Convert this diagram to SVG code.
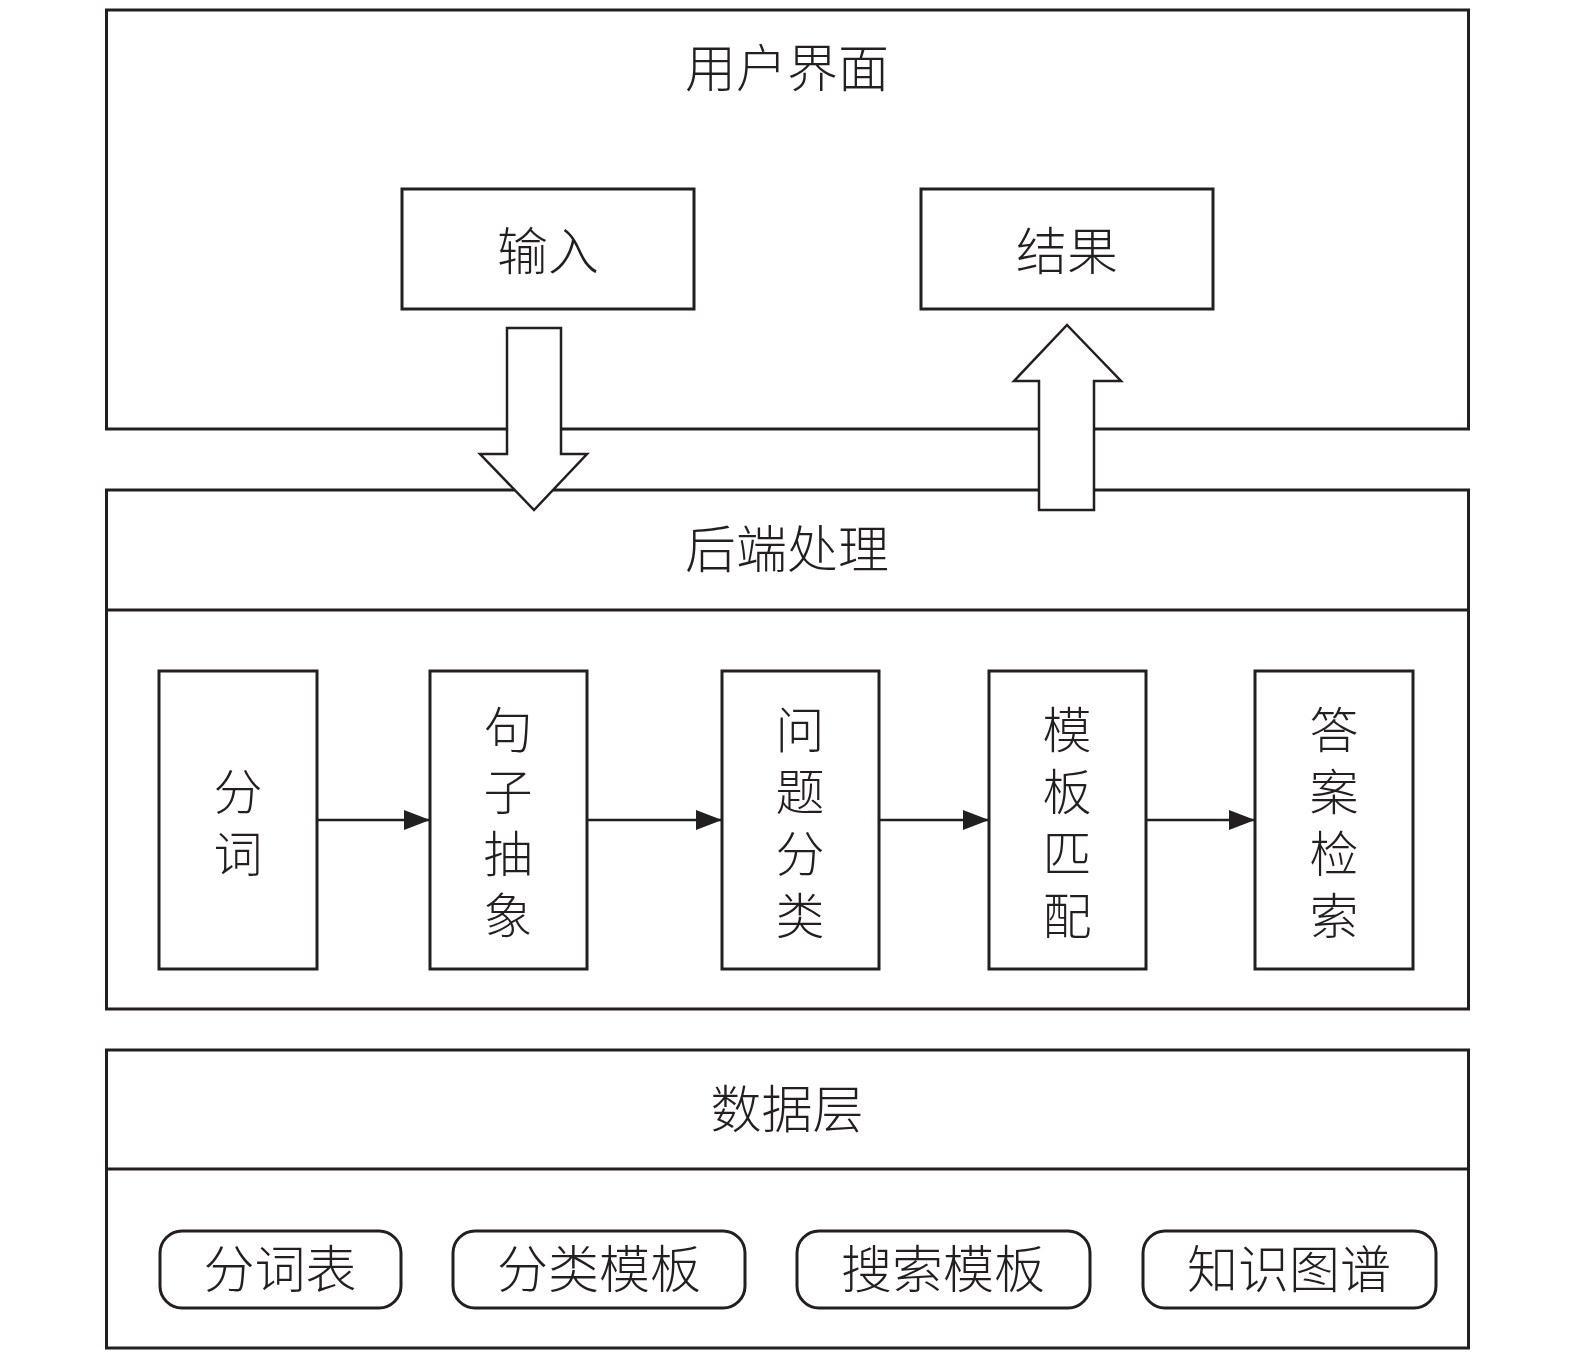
<svg xmlns="http://www.w3.org/2000/svg" width="1575" height="1356" viewBox="0 0 1575 1356">
<style>
.box{fill:#fff;stroke:#231f20;stroke-width:3}
.t{font-family:"Noto Sans CJK SC","Noto Sans CJK JP",sans-serif;font-size:51px;fill:#231f20;text-anchor:middle;dominant-baseline:central;font-weight:300}
.v{font-family:"Noto Sans CJK SC","Noto Sans CJK JP",sans-serif;font-size:49px;fill:#231f20;text-anchor:middle;writing-mode:vertical-rl;letter-spacing:13px;font-weight:300}
.conn{stroke:#231f20;stroke-width:2.5;fill:none}
.big{fill:#fff;stroke:#231f20;stroke-width:2.5;stroke-linejoin:miter}
</style>
<defs>
<marker id="ah" markerWidth="26" markerHeight="20" refX="26" refY="10" orient="auto" markerUnits="userSpaceOnUse">
<path d="M0,0 L26,10 L0,20 Z" fill="#231f20"/>
</marker>
</defs>
<rect width="1575" height="1356" fill="#fff"/>
<g id="ui-layer">
<rect class="box" x="106.5" y="10" width="1362" height="419"/>
<text class="t" x="787" y="65">用户界面</text>
</g>
<g id="input">
<rect class="box" x="402" y="189" width="292" height="120"/>
<text class="t" x="548" y="248">输入</text>
</g>
<g id="result">
<rect class="box" x="921" y="189" width="292" height="120"/>
<text class="t" x="1067" y="248">结果</text>
</g>
<g id="backend-layer">
<rect class="box" x="106.5" y="490" width="1362" height="519"/>
<line class="box" x1="106.5" y1="610" x2="1468.5" y2="610"/>
<text class="t" x="787" y="546">后端处理</text>
</g>
<g id="fenci">
<rect class="box" x="159" y="671" width="158" height="298"/>
<text class="v" x="238" y="829">分词</text>
</g>
<g id="juzi">
<rect class="box" x="430" y="671" width="157" height="298"/>
<text class="v" x="508" y="829">句子抽象</text>
</g>
<g id="wenti">
<rect class="box" x="722" y="671" width="157" height="298"/>
<text class="v" x="800" y="829">问题分类</text>
</g>
<g id="moban">
<rect class="box" x="989" y="671" width="157" height="298"/>
<text class="v" x="1067" y="829">模板匹配</text>
</g>
<g id="daan">
<rect class="box" x="1255" y="671" width="158" height="298"/>
<text class="v" x="1334" y="829">答案检索</text>
</g>
<g id="data-layer">
<rect class="box" x="106.5" y="1050" width="1362" height="298"/>
<line class="box" x1="106.5" y1="1169" x2="1468.5" y2="1169"/>
<text class="t" x="787" y="1106">数据层</text>
</g>
<g id="fencibiao">
<rect class="box" x="160" y="1231" width="241" height="77" rx="22"/>
<text class="t" x="280" y="1266">分词表</text>
</g>
<g id="fenleimoban">
<rect class="box" x="453" y="1231" width="292" height="77" rx="22"/>
<text class="t" x="599" y="1266">分类模板</text>
</g>
<g id="sousuomoban">
<rect class="box" x="797" y="1231" width="293" height="77" rx="22"/>
<text class="t" x="943" y="1266">搜索模板</text>
</g>
<g id="zhishitupu">
<rect class="box" x="1143" y="1231" width="293" height="77" rx="22"/>
<text class="t" x="1289" y="1266">知识图谱</text>
</g>
<g id="connectors">
<path class="big" d="M507,328 L561,328 L561,454 L587,454 L534,510 L480,454 L507,454 Z"/>
<path class="big" d="M1039,510 L1094,510 L1094,381 L1121,381 L1067,325 L1014,381 L1039,381 Z"/>
<line class="conn" x1="317" y1="820" x2="430" y2="820" marker-end="url(#ah)"/>
<line class="conn" x1="587" y1="820" x2="722" y2="820" marker-end="url(#ah)"/>
<line class="conn" x1="879" y1="820" x2="989" y2="820" marker-end="url(#ah)"/>
<line class="conn" x1="1146" y1="820" x2="1255" y2="820" marker-end="url(#ah)"/>
</g>
</svg>
